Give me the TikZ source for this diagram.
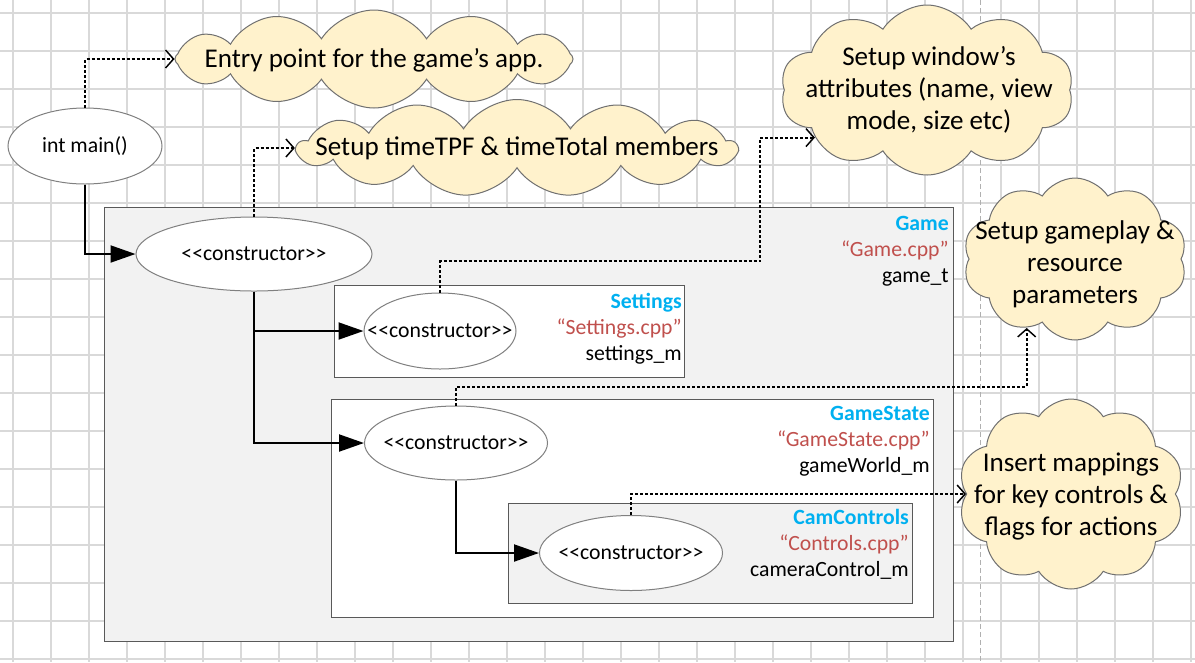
\documentclass[tikz,border=0pt]{standalone}
\usepackage{fontspec}
\setmainfont{Carlito}[Ligatures=TeXOff]
\usetikzlibrary{arrows.meta,shapes.geometric,shapes.symbols,calc}
\definecolor{gridc}{HTML}{D9D9D9}
\definecolor{dashgray}{HTML}{B0B0B0}
\definecolor{cloudfill}{HTML}{FFF2CC}
\definecolor{cloudline}{HTML}{707070}
\definecolor{boxfill}{HTML}{F2F2F2}
\definecolor{boxline}{HTML}{595959}
\definecolor{ellgray}{HTML}{808080}
\definecolor{cyanlbl}{HTML}{00B0F0}
\definecolor{redlbl}{HTML}{C0504D}
\newcommand\normfont{\fontsize{16.3}{19.5}\selectfont}
\newcommand\cloudfont{\fontsize{20.3}{24}\selectfont}
\newcommand\ctortext{\makebox[0pt]{<<constructor>>}}
\begin{document}
\begin{tikzpicture}[x=0.75pt,y=-0.75pt,
  gridline/.style={draw=gridc, line width=1.1pt},
  ell/.style={ellipse, draw=ellgray, fill=white, line width=0.75pt, inner sep=0pt, font=\normfont},
  cloudbox/.style={cloud, cloud ignores aspect, draw=cloudline, fill=cloudfill, line width=0.75pt, inner sep=0pt, cloud puff arc=115},
  cloudtext/.style={align=center, font=\cloudfont, inner sep=0pt},
  frame/.style={draw=boxline, line width=0.75pt, anchor=north west, inner sep=0pt},
  lbl/.style={anchor=base east, inner sep=0pt, font=\normfont},
  lbltitle/.style={lbl, font=\normfont\bfseries, text=cyanlbl},
  lblfile/.style={lbl, text=redlbl},
  solidarrow/.style={draw=black, line width=1.5pt, -{Triangle[length=18.75pt,width=12.75pt]}},
  dotarrow/.style={draw=black, line width=1.5pt, dash pattern=on 2.25pt off 1.5pt, -{Straight Barb[length=6pt,width=13.5pt,line width=1.1pt]}}
]
\useasboundingbox (0,0) rectangle (1195,662);
\fill[white] (0,0) rectangle (1195,662);
% grid
\foreach \i in {0,...,31} \draw[gridline] ({13+38*\i},0) -- ({13+38*\i},662);
\foreach \j in {0,...,17} \draw[gridline] (0,{13+38*\j}) -- (1195,{13+38*\j});
% dashed guide
\draw[draw=dashgray, line width=0.75pt, dash pattern=on 3.75pt off 2.25pt] (980,0) -- (980,662);

% clouds
\node[cloudbox, cloud puffs=12, minimum width=298.5pt, minimum height=73.5pt] (cl1) at (374,59) {};
\node[cloudtext] (t1) at (374,60) {Entry point for the game’s app.};
\node[cloudbox, cloud puffs=13, minimum width=329.25pt, minimum height=72.75pt] (cl2) at (517,148) {};
\node[cloudtext] (t2) at (517,148) {Setup timeTPF \& timeTotal members};
\node[cloudbox, cloud puffs=10, minimum width=219.75pt, minimum height=127.5pt] (cl3) at (927,90) {};
\node[cloudtext] (t3) at (929,90) {Setup window’s\\attributes (name, view\\mode, size etc)};
\node[cloudbox, cloud puffs=10, minimum width=168pt, minimum height=121.5pt] (cl4) at (1075,259) {};
\node[cloudtext] (t4) at (1075,264) {Setup gameplay \&\\resource\\parameters};
\node[cloudbox, cloud puffs=10, minimum width=169.5pt, minimum height=142.5pt] (cl5) at (1071,494) {};
\node[cloudtext] (t5) at (1071,497) {Insert mappings\\for key controls \&\\flags for actions};

% boxes
\node[frame, fill=boxfill, minimum width=636.75pt, minimum height=325.5pt] (game) at (104,207) {};
\node[frame, fill=white, minimum width=262.5pt, minimum height=69pt] (settings) at (334,285) {};
\node[frame, fill=white, minimum width=451.5pt, minimum height=163.5pt] (gstate) at (331,399) {};
\node[frame, fill=boxfill, minimum width=303pt, minimum height=75pt] (camctl) at (508,503) {};

% labels
\node[lbltitle] (gameT) at ($(game.north east)+(-5,23)$) {Game};
\node[lblfile] (gameF) at ($(game.north east)+(-5,49)$) {“Game.cpp”};
\node[lbl] (gameV) at ($(game.north east)+(-5,75)$) {game\_t};
\node[lbltitle] (setT) at ($(settings.north east)+(-3,23)$) {Settings};
\node[lblfile] (setF) at ($(settings.north east)+(-3,49)$) {“Settings.cpp”};
\node[lbl] (setV) at ($(settings.north east)+(-3,75)$) {settings\_m};
\node[lbltitle] (gsT) at ($(gstate.north east)+(-4,21)$) {GameState};
\node[lblfile] (gsF) at ($(gstate.north east)+(-4,47)$) {“GameState.cpp”};
\node[lbl] (gsV) at ($(gstate.north east)+(-4,73)$) {gameWorld\_m};
\node[lbltitle] (ccT) at ($(camctl.north east)+(-4,21)$) {CamControls};
\node[lblfile] (ccF) at ($(camctl.north east)+(-4,47)$) {“Controls.cpp”};
\node[lbl] (ccV) at ($(camctl.north east)+(-4,73)$) {cameraControl\_m};

% ellipses
\node[ell, minimum width=115.5pt, minimum height=57pt] (main) at (85,146) {\makebox[0pt]{int main()}};
\node[ell, minimum width=177pt, minimum height=55.5pt] (c1) at (254,254) {\ctortext};
\node[ell, minimum width=114pt, minimum height=57pt] (cs) at (440,331) {\ctortext};
\node[ell, minimum width=137.25pt, minimum height=55.5pt] (cg) at (456,443) {\ctortext};
\node[ell, minimum width=137.25pt, minimum height=56.25pt] (cc) at (631,553) {\ctortext};

% connectors
\coordinate (k1) at (760,261);
\draw[solidarrow] (main.south) |- (c1.west);
\draw[solidarrow] (c1.south) |- (cs.west);
\draw[solidarrow] (c1.south) |- (cg.west);
\draw[solidarrow] (cg.south) |- (cc.west);
\draw[dotarrow] (main.north) |- (cl1.west);
\draw[dotarrow] (c1.north) |- (cl2.west);
\draw[dotarrow] (cs.north) |- (k1) |- (cl3.203);
\draw[dotarrow] (cg.north) -- ++(0,-19) -| (cl4.235);
\draw[dotarrow] (cc.north) |- (cl5.west);
\end{tikzpicture}
\end{document}
